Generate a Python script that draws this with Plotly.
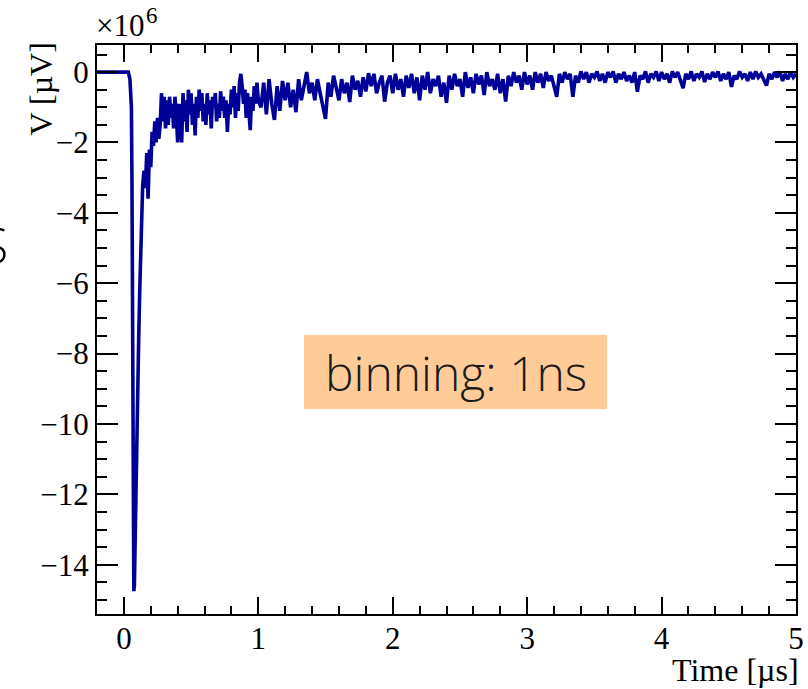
import numpy as np
import plotly.graph_objects as go

# ---- data (voltage in units of 1e6 uV, time in us) ----
t_pulse = [-0.2, 0.0, 0.02, 0.033, 0.045, 0.05, 0.056, 0.060, 0.063, 0.066, 0.070, 0.074,
           0.078, 0.082, 0.087, 0.095, 0.103, 0.110, 0.118, 0.125, 0.132]
v_pulse = [0.0, 0.0, 0.0, 0.0, -0.2, -0.45, -1.0, -3.0, -7.0, -11.0, -14.0, -14.75,
           -14.6, -13.5, -12.2, -10.5, -9.0, -7.6, -6.2, -5.0, -4.1]

# tail sampled every 10 ns from 0.14 us
t_tail_a_start = 0.14
v_tail_a = [
    -3.2, -2.8, -3.3, -2.3, -3.6, -2.2, -2.7, -1.7, -2.1, -1.4,
    -2.0, -1.3, -1.9, -1.5, -0.6, -1.4, -0.7, -1.6, -0.8, -1.5,
    -0.7, -1.3, -0.9, -1.6, -0.7, -1.2, -2.0, -0.9, -1.5, -2.0,
    -0.6, -1.4, -0.8, -1.7, -0.5, -1.2, -0.6, -1.5, -0.9, -1.8,
    -0.7, -1.3, -0.5, -1.1, -0.6, -1.4, -0.9, -1.5, -0.6, -1.2,
    -0.8, -1.6, -0.7, -1.0, -0.6, -1.4, -0.9, -1.3, -0.55, -1.1,
    -0.7, -1.3, -0.8, -1.7, -0.9, -1.2, -0.5, -1.0, -0.4, -1.3,
    -0.6, -1.1, -0.3, -0.05, -0.4, -0.9, -0.5, -1.3, -0.6, -1.0,
    -1.65, -0.7, -1.1, -0.4, -0.9, -0.3, -0.8,
]

# tail sampled every 20 ns from 1.02 us
t_tail_b_start = 1.02
v_tail_b = [
    -1.0, -0.3, -1.2, -0.2, -0.9, -1.36, -0.4, -1.1, -0.25, -0.8,
    -0.3, -1.0, -0.5, -1.14, -0.2, -0.8, -0.4, 0.0, -0.6, -0.3,
    -0.8, -0.2, -0.6, -1.0, -1.33, -0.3, -0.7, -0.1, -0.5, -0.8,
    -0.2, -0.6, -0.3, -0.85, -0.1, -0.5, -0.25, -0.7, -0.15, -0.55,
    -0.03, -0.4, -0.05, -0.6, -0.3, -0.1, -0.84, -0.3, -0.1, -0.6,
    -0.05, -0.5, -0.2, -0.7, -0.1, -0.45, -0.05, -0.6, -0.15, -0.8,
    -0.1, -0.5, 0.0, -0.6, -0.2, -0.4, -0.1, -0.7, -0.3, -0.87,
    -0.1, -0.5, -0.05, -0.4, -0.2, -0.7, 0.0, -0.45, -0.15, -0.6,
    -0.05, -0.35, -0.1, -0.65, 0.0, -0.4, -0.2, -0.5, -0.05, -0.6,
    -0.2, -0.84, -0.1, -0.4, 0.0, -0.3, -0.1, -0.5, 0.0, -0.35,
    -0.1, -0.5, 0.0, -0.3, -0.05, -0.45, 0.0, -0.25, -0.1, -0.4,
    -0.7, -0.05, -0.3, 0.0, -0.2, -0.05, -0.7, -0.1, -0.3, 0.02,
    -0.2, 0.0, -0.3, -0.05, -0.15, 0.02, -0.25, -0.05, -0.3, 0.0,
    -0.15, 0.02, -0.3, -0.05, -0.2, 0.0, -0.25, -0.1, -0.3, 0.0,
    -0.56, -0.1, -0.2, 0.02, -0.3, -0.05, -0.15, 0.02, -0.25, 0.0,
    -0.2, -0.05, -0.3, 0.02, -0.15, 0.0, -0.2, -0.46, -0.05, -0.2,
    0.02, -0.25, -0.05, -0.15, 0.02, -0.28, -0.05, -0.2, 0.0, -0.15,
    0.02, -0.25, -0.05, -0.2, 0.0, -0.42, -0.1, -0.2, 0.02, -0.15,
    -0.05, -0.25, 0.0, -0.2, 0.02, -0.15, -0.05, -0.25, -0.38, -0.05,
    -0.2, 0.0, -0.15, 0.02, -0.25, -0.05, -0.2, 0.0, -0.15, -0.05,
]

x_major_ticks = [0, 1, 2, 3, 4, 5]
y_major_ticks = [0, -2, -4, -6, -8, -10, -12, -14]

t_tail_a = list(t_tail_a_start + 0.01 * np.arange(len(v_tail_a)))
t_tail_b = list(t_tail_b_start + 0.02 * np.arange(len(v_tail_b)))

t_all = t_pulse + t_tail_a + t_tail_b
v_all = v_pulse + v_tail_a + v_tail_b

W, H = 808, 689
L, R, T, B = 97, 12, 45, 75
PW, PH = W - L - R, H - T - B


def px(xp):
    return (xp - L) / PW


def py(yp):
    return (H - B - yp) / PH


fig = go.Figure()
fig.add_trace(go.Scatter(x=t_all, y=v_all, mode="lines",
                         line=dict(color="#000099", width=3.6), hoverinfo="skip"))

serif = "Liberation Serif"
fig.update_layout(
    width=W, height=H,
    margin=dict(l=L, r=R, t=T, b=B, autoexpand=False),
    paper_bgcolor="white", plot_bgcolor="white",
    showlegend=False,
    xaxis=dict(range=[-0.2, 5.0], tickvals=x_major_ticks, ticks="inside", ticklen=17,
               tickwidth=1.5, tickcolor="black", showline=True, linecolor="black",
               linewidth=2, mirror="allticks", showgrid=False, zeroline=False,
               automargin=False,
               tickfont=dict(family=serif, size=31, color="black"),
               ticklabelstandoff=-4,
               minor=dict(dtick=0.2, tick0=0, ticks="inside", ticklen=8, tickwidth=1.5,
                          tickcolor="black", showgrid=False)),
    yaxis=dict(range=[-15.40, 0.77], tickvals=y_major_ticks, ticks="inside", ticklen=21,
               tickwidth=1.5, tickcolor="black", showline=True, linecolor="black",
               linewidth=2, mirror="allticks", showgrid=False, zeroline=False,
               automargin=False,
               tickfont=dict(family=serif, size=31, color="black"),
               minor=dict(dtick=0.5, tick0=0, ticks="inside", ticklen=10, tickwidth=1.5,
                          tickcolor="black", showgrid=False)),
)

fig.add_shape(type="rect", xref="paper", yref="paper",
              x0=px(304), x1=px(607), y0=py(409), y1=py(335),
              fillcolor="#FFCC99", line=dict(width=0), layer="above")

fig.add_annotation(text="binning: 1ns", xref="paper", yref="paper",
                   x=px(456), y=py(372), xanchor="center", yanchor="middle",
                   showarrow=False,
                   font=dict(family="Open Sans", size=48, color="#1a1a1a", weight=300))
fig.add_annotation(text="V [µV]", xref="paper", yref="paper", textangle=-90,
                   x=px(40), y=py(41), xanchor="center", yanchor="top", showarrow=False,
                   font=dict(family=serif, size=32, color="black"))
fig.add_annotation(text="×10", xref="paper", yref="paper",
                   x=px(94), y=py(45), xanchor="left", yanchor="bottom", showarrow=False,
                   font=dict(family=serif, size=31, color="black"))
fig.add_annotation(text="6", xref="paper", yref="paper",
                   x=px(144), y=py(30), xanchor="left", yanchor="bottom", showarrow=False,
                   font=dict(family=serif, size=23, color="black"))
fig.add_annotation(text="Time [µs]", xref="paper", yref="paper",
                   x=px(801), y=py(670), xanchor="right", yanchor="middle", showarrow=False,
                   font=dict(family=serif, size=32, color="black"))
fig.add_annotation(text="S", xref="paper", yref="paper",
                   x=px(10), y=py(245), xanchor="right", yanchor="middle", showarrow=False,
                   font=dict(family="Open Sans", size=50, color="black", weight=300))

fig.write_html("out.html", config={"displayModeBar": False},
               post_script="document.body.style.margin='0';"
                           "document.body.style.overflow='hidden';")
